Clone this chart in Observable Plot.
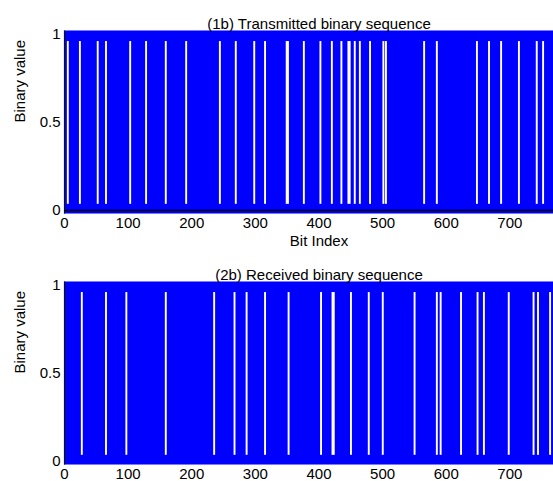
<!DOCTYPE html>
<html><head><meta charset="utf-8">
<script src="https://cdn.jsdelivr.net/npm/d3@7"></script>
<script src="https://cdn.jsdelivr.net/npm/@observablehq/plot@0.6"></script>
<style>
html,body{margin:0;padding:0;background:#fff;overflow:hidden;width:553px;height:481px}
.panel{position:absolute;left:0;width:600px}
.panel svg{max-width:none !important;width:600px !important;height:250px !important}
</style></head><body>
<div id="p1" class="panel" style="top:0"></div>
<div id="p2" class="panel" style="top:251px"></div>
<script>
const nBits = 800;
const xTicks = [0, 100, 200, 300, 400, 500, 600, 700];
const yTicks = [0, 0.5, 1];
const titleTx = "(1b) Transmitted binary sequence";
const titleRx = "(2b) Received binary sequence";
const xLabel = "Bit Index";
const yLabel = "Binary value";

// bit positions of the visible constant runs (white gaps) and their run lengths in bits
const txGapCenter = [6, 25, 53, 66, 104, 129, 160, 192, 245, 270, 299, 316, 351, 377, 403, 421, 436, 448, 457, 465, 481, 502, 506, 566, 586, 649, 668, 687, 715, 743, 753];
const txGapRun    = [4, 4, 4, 4, 4, 4, 4, 4, 4, 4, 4, 4, 6, 4, 4, 4, 4, 6, 4, 4, 4, 4, 4, 4, 4, 4, 4, 4, 4, 4, 4];
const rxGapCenter = [28, 66, 98, 160, 236, 268, 287, 316, 353, 404, 423, 451, 479, 501, 551, 586, 592, 624, 650, 660, 699, 738, 745, 764];
const rxGapRun    = [4, 4, 4, 4, 4, 4, 4, 4, 4, 4, 6, 4, 4, 4, 4, 4, 4, 4, 4, 4, 4, 4, 4, 4];

function panel(title, centers, runs, showXLabel, showXLine) {
  const gaps = centers.map((c, i) => ({c, r: runs[i]}));
  return Plot.plot({
    width: 600, height: 250,
    marginLeft: 64, marginRight: 27, marginTop: 34, marginBottom: 40,
    style: {fontFamily: "'Liberation Sans', Arial, sans-serif", fontSize: "15px", color: "#000", background: "#fff", overflow: "visible", maxWidth: "none"},
    x: {domain: [0, nBits], ticks: xTicks, tickSize: 0, tickPadding: 7, label: null, tickFormat: d => String(d)},
    y: {domain: [0, 1], ticks: yTicks, tickSize: 0, tickPadding: 4, label: null, tickFormat: d => String(d)},
    marks: [
      Plot.rect([nBits], {x1: 0, x2: d => d, y1: -0.02, y2: 1.02, fill: "#0000ff"}),
      Plot.rect(gaps, {x1: d => d.c - (d.r - 1) / 2, x2: d => d.c + (d.r - 1) / 2, y1: 0.035, y2: 0.96, fill: "#ffffff"}),
      Plot.ruleX([0], {y1: -0.02, y2: 1.02, stroke: "#111", strokeWidth: 1.2}),
      showXLine ? Plot.ruleY([0], {stroke: "#000", strokeWidth: 1.5}) : null,
      Plot.text([title], {frameAnchor: "top", dy: -16, text: d => d}),
      Plot.text([yLabel], {frameAnchor: "left", dx: -44, rotate: -90, text: d => d}),
      showXLabel ? Plot.text([xLabel], {frameAnchor: "bottom", dy: 35, text: d => d}) : null
    ]
  });
}

document.getElementById("p1").appendChild(panel(titleTx, txGapCenter, txGapRun, true, true));
document.getElementById("p2").appendChild(panel(titleRx, rxGapCenter, rxGapRun, false, false));
</script>
</body></html>
